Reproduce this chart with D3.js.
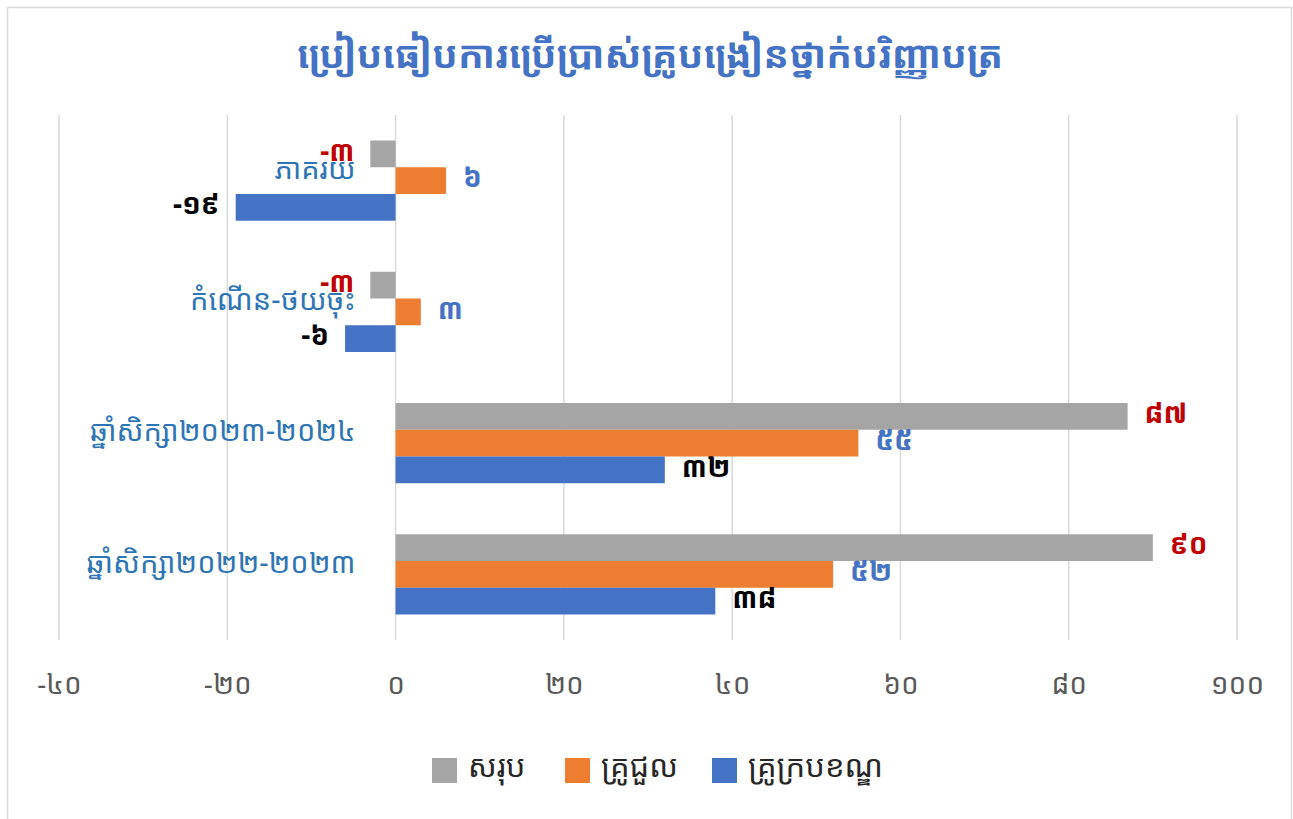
<!DOCTYPE html>
<html>
<head>
<meta charset="utf-8">
<script src="https://cdn.jsdelivr.net/npm/d3@7"></script>
<style>
  html, body { margin: 0; padding: 0; background: #fff; }
  svg { display: block; }
  text { font-family: "Noto Sans Khmer", "Noto Serif Khmer", "Khmer OS", "Khmer OS System", sans-serif; }
</style>
</head>
<body>
<svg id="chart" width="1293" height="819"></svg>
<script>
// Chart content
const title = "ប្រៀបធៀបការប្រើប្រាស់គ្រូបង្រៀនថ្នាក់បរិញ្ញាបត្រ";
const categories = ["ភាគរយ", "កំណើន-ថយចុះ", "ឆ្នាំសិក្សា២០២៣-២០២៤", "ឆ្នាំសិក្សា២០២២-២០២៣"];
const seriesNames = ["សរុប", "គ្រូជួល", "គ្រូក្របខណ្ឌ"];
const totalValues = [-3, -3, 87, 90];
const hiredValues = [6, 3, 55, 52];
const frameworkValues = [-19, -6, 32, 38];
const tickValues = [-40, -20, 0, 20, 40, 60, 80, 100];

const seriesColors = ["#A5A5A5", "#ED7D31", "#4472C4"];
const labelColors = ["#C00000", "#4472C4", "#000000"];
const seriesValues = [totalValues, hiredValues, frameworkValues];

// Khmer numerals
const khDigits = "០១២៣៤៥៦៧៨៩";
const kh = n => String(n).replace(/[0-9]/g, d => khDigits[+d]);

const svg = d3.select("#chart");

// outer frame
svg.append("rect").attr("x", 7.5).attr("y", 7.5).attr("width", 1284).attr("height", 830)
  .attr("fill", "#fff").attr("stroke", "#D9D9D9").attr("stroke-width", 1.5);

const plot = { left: 59, right: 1237, top: 115, bottom: 640 };

const x = d3.scaleLinear().domain([-40, 100]).range([plot.left, plot.right]);
const y = d3.scaleBand().domain(categories).range([plot.top, plot.bottom]).paddingInner(0.3889).paddingOuter(0.1944);
const ySub = d3.scaleBand().domain(d3.range(3)).range([0, y.bandwidth()]);

// gridlines
svg.append("g").selectAll("line").data(tickValues).join("line")
  .attr("x1", d => x(d)).attr("x2", d => x(d))
  .attr("y1", plot.top).attr("y2", plot.bottom)
  .attr("stroke", "#D9D9D9").attr("stroke-width", 1.5);

// x axis labels
const xAxis = d3.axisBottom(x).tickValues(tickValues).tickFormat(kh).tickSize(0).tickPadding(0);
const gx = svg.append("g").attr("transform", `translate(0,${plot.bottom + 44})`).call(xAxis);
gx.select(".domain").remove();
gx.selectAll("text").attr("font-size", 28).attr("fill", "#595959")
  .style("font-family", "'Noto Sans Khmer', sans-serif").attr("dy", "0.35em");

// bars and value labels
const groups = svg.append("g").selectAll("g").data(categories).join("g")
  .attr("transform", c => `translate(0,${y(c)})`);

seriesValues.forEach((vals, si) => {
  groups.append("rect")
    .attr("x", (c, i) => x(Math.min(0, vals[i])))
    .attr("y", ySub(si))
    .attr("width", (c, i) => Math.abs(x(vals[i]) - x(0)))
    .attr("height", ySub.bandwidth())
    .attr("fill", seriesColors[si]);
  groups.append("text")
    .attr("x", (c, i) => vals[i] < 0 ? x(vals[i]) - 16 : x(vals[i]) + 17)
    .attr("y", ySub(si) + ySub.bandwidth() / 2 - 3)
    .attr("dy", "0.35em")
    .attr("text-anchor", (c, i) => vals[i] < 0 ? "end" : "start")
    .attr("font-size", 28).attr("font-weight", "bold")
    .attr("fill", labelColors[si])
    .text((c, i) => kh(vals[i]));
});

// category labels
svg.append("g").selectAll("text").data(categories).join("text")
  .attr("x", x(0) - 40)
  .attr("y", c => y(c) + y.bandwidth() / 2 - 12)
  .attr("dy", "0.35em")
  .attr("text-anchor", "end")
  .attr("font-size", 29).attr("fill", "#2E75B6")
  .text(c => c);

// title
svg.append("text").attr("x", 650).attr("y", 55).attr("dy", "0.35em")
  .attr("text-anchor", "middle").attr("font-size", 38).attr("font-weight", "bold")
  .attr("fill", "#4472C4").text(title);

// legend
const legendX = [432, 565, 712];
const lg = svg.append("g").selectAll("g").data(seriesNames).join("g")
  .attr("transform", (d, i) => `translate(${legendX[i]},758)`);
lg.append("rect").attr("width", 25).attr("height", 25).attr("fill", (d, i) => seriesColors[i]);
lg.append("text").attr("x", 36).attr("y", 8).attr("dy", "0.35em")
  .attr("font-size", 31).attr("fill", "#262626").text(d => d);
</script>
</body>
</html>
